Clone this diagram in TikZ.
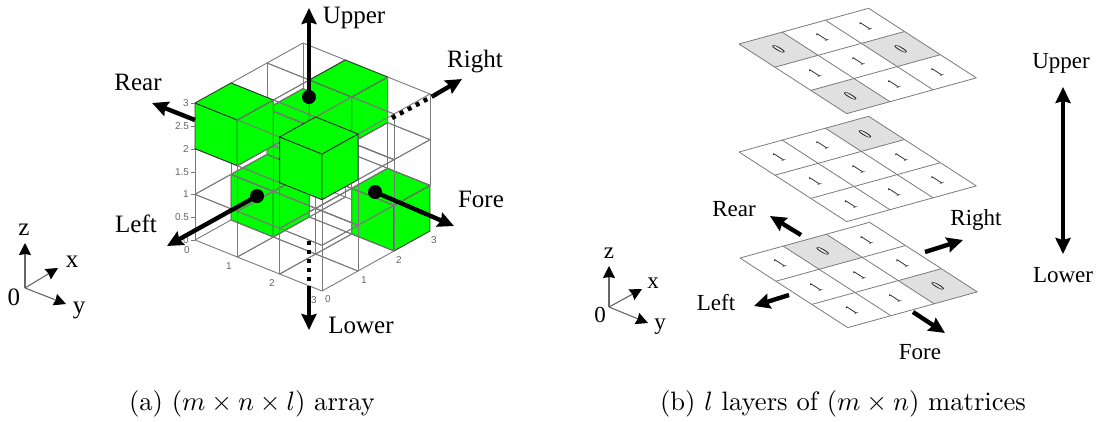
\documentclass[tikz,border=0pt]{standalone}
\usepackage{amsmath}
\usepackage{fontspec}
\usetikzlibrary{arrows.meta,positioning,calc}
\newfontfamily\labelfont{Liberation Serif}
\newfontfamily\tickfont{Liberation Sans}
\tikzset{
	gridline/.style = {
		draw=black!52,
		line width=0.9pt,
		line join=round
	},
	cubeface/.style = {
		fill=green,
		draw=black!80,
		line width=0.9pt,
		line join=round
	},
	thickarrow/.style = {
		-{Stealth[length=16pt,width=15pt,inset=2pt]},
		line width=4.4pt
	},
	dotline/.style = {
		line width=4.4pt,
		dash pattern=on 4pt off 5pt
	},
	thinarrow/.style = {
		-{Stealth[length=12pt,width=12pt,inset=1pt,black]},
		draw=black!60,
		line width=1.1pt
	},
	dirlabel/.style = {
		font=\labelfont\fontsize{25}{27}\selectfont
	},
	dirlabelb/.style = {
		font=\labelfont\fontsize{23}{25}\selectfont
	},
	ticklabel/.style = {
		font=\tickfont\fontsize{10}{10}\selectfont,
		text=black!60,
		inner sep=0pt
	},
	endball/.style = {
		fill,
		circle,
		minimum size=14pt,
		inner sep=0pt
	},
	captionlabel/.style = {
		scale=2.66,
		transform shape
	},
	digit/.style = {
		font=\labelfont\fontsize{10}{10}\selectfont,
		inner sep=0pt,
		transform shape,
		cm={1.16,0.32,-1.6,1.03,(0,0)}
	}
}
% one empty cell of the wire frame
\newcommand{\wirecell}[3]{
	\draw[gridline] (#1,#2,#3) -- (#1+1,#2,#3) -- (#1+1,#2+1,#3) -- (#1,#2+1,#3) -- cycle;
	\draw[gridline] (#1,#2,#3+1) -- (#1+1,#2,#3+1) -- (#1+1,#2+1,#3+1) -- (#1,#2+1,#3+1) -- cycle;
	\draw[gridline] (#1,#2,#3) -- (#1,#2,#3+1);
	\draw[gridline] (#1+1,#2,#3) -- (#1+1,#2,#3+1);
	\draw[gridline] (#1+1,#2+1,#3) -- (#1+1,#2+1,#3+1);
	\draw[gridline] (#1,#2+1,#3) -- (#1,#2+1,#3+1);
}
% one green cube, only its three faces that can be seen
\newcommand{\greencube}[3]{
	\draw[cubeface] (#1,#2,#3) -- (#1+1,#2,#3) -- (#1+1,#2,#3+1) -- (#1,#2,#3+1) -- cycle;
	\draw[cubeface] (#1+1,#2,#3) -- (#1+1,#2+1,#3) -- (#1+1,#2+1,#3+1) -- (#1+1,#2,#3+1) -- cycle;
	\draw[cubeface] (#1,#2,#3+1) -- (#1+1,#2,#3+1) -- (#1+1,#2+1,#3+1) -- (#1,#2+1,#3+1) -- cycle;
}
% one layer of the matrices: name, left corner, list of zeros, list of ones
\newcommand{\layermatrix}[4]{
	\begin{scope}[shift={#2}, x={(35.9pt,-23.2pt)}, y={(43.2pt,11.9pt)}]
		\foreach \f/\r in {#3} {
			\fill[black!12] (\f,\r) -- (\f+1,\r) -- (\f+1,\r+1) -- (\f,\r+1) -- cycle;
			\node[digit] (#1-\f-\r) at (\f+0.5,\r+0.5) {0};
		}
		\foreach \f/\r in {#4} {
			\node[digit] (#1-\f-\r) at (\f+0.5,\r+0.5) {1};
		}
		\foreach \i in {0,1,2,3} {
			\draw[gridline, line width=0.8pt] (\i,0) -- (\i,3);
			\draw[gridline, line width=0.8pt] (0,\i) -- (3,\i);
		}
	\end{scope}
}
\begin{document}
\begin{tikzpicture}[x=1pt, y=-1pt]
		\useasboundingbox (0,0) rectangle (1097,421);
		
		% --- Array ---
		\foreach \c in {002,202,122,021,010,220} {
			\expandafter\gdef\csname cell\c\endcsname{}
		}
		\begin{scope}[shift={(195,240)}, x={(42.33pt,-17pt)}, y={(36pt,20pt)}, z={(0pt,45.67pt)}]
			\foreach \k in {0,1,2} {
				\foreach \r in {2,1,0} {
					\foreach \f in {0,1,2} {
						\ifcsname cell\f\r\k\endcsname
							\greencube{\f}{\r}{\k}
						\else
							\wirecell{\f}{\r}{\k}
						\fi
					}
				}
			}
		\end{scope}
		
		% Tick labels
		\node[ticklabel] (tz3) at (186,103) {3};
		\node[ticklabel] (tz25) at (182,126) {2.5};
		\node[ticklabel] (tz2) at (186,149) {2};
		\node[ticklabel] (tz15) at (182,172) {1.5};
		\node[ticklabel] (tz1) at (186,194) {1};
		\node[ticklabel] (tz05) at (182,217) {0.5};
		\node[ticklabel] (tz0) at (186,240) {0};
		\node[ticklabel] (tf0) at (187,250) {0};
		\node[ticklabel] (tf1) at (229,266) {1};
		\node[ticklabel] (tf2) at (272,283) {2};
		\node[ticklabel] (tf3) at (314,300) {3};
		\node[ticklabel] (tr0) at (328,299) {0};
		\node[ticklabel] (tr1) at (364,280) {1};
		\node[ticklabel] (tr2) at (399,260) {2};
		\node[ticklabel] (tr3) at (434,240) {3};
		\foreach \y in {103,126,149,172,194,217,240} {
			\draw[gridline] (191,\y) -- (195,\y);
		}
		
		% --- Directions of the array ---
		\node[endball] (upperball) at (309,97) {};
		\node[endball] (leftball) at (257,196) {};
		\node[endball] (foreball) at (375,192) {};
		\coordinate (uppertip) at (309,8);
		\coordinate (reartail) at (195,120);
		\coordinate (reartip) at (152,103);
		\coordinate (rightdots) at (392,118);
		\coordinate (righttail) at (433,96);
		\coordinate (righttip) at (462,79);
		\coordinate (lefttip) at (167,246);
		\coordinate (foretip) at (454,226);
		\coordinate (lowerdots) at (309,241);
		\coordinate (lowertail) at (309,286);
		\coordinate (lowertip) at (309,330);
		\draw[thickarrow] (upperball.center) -- (uppertip);
		\draw[thickarrow] (reartail) -- (reartip);
		\draw[dotline] (rightdots) -- (righttail);
		\draw[thickarrow] (righttail) -- (righttip);
		\draw[thickarrow] (leftball.center) -- (lefttip);
		\draw[thickarrow] (foreball.center) -- (foretip);
		\draw[dotline] (lowerdots) -- (lowertail);
		\draw[thickarrow] (lowertail) -- (lowertip);
		\node[dirlabel] (upperlabel) at (354,18) {Upper};
		\node[dirlabel] (rearlabel) at (138,82) {Rear};
		\node[dirlabel] (rightlabel) at (475,62) {Right};
		\node[dirlabel] (leftlabel) at (136,224) {Left};
		\node[dirlabel] (forelabel) at (481,199) {Fore};
		\node[dirlabel] (lowerlabel) at (361,325) {Lower};
		
		% --- Axes of (a) ---
		\coordinate (origa) at (25,288);
		\node[dirlabel, inner sep=0pt] (za) at (24,230) {z};
		\node[dirlabel, inner sep=0pt] (xa) at (72,262) {x};
		\node[dirlabel, inner sep=0pt] (ya) at (79,310) {y};
		\node[dirlabel, inner sep=0pt] (zeroa) at (14,297) {0};
		\coordinate (ztipa) at (25,243);
		\coordinate (xtipa) at (58,268);
		\coordinate (ytipa) at (66,304);
		\draw[thinarrow] (origa) -- (ztipa);
		\draw[thinarrow] (origa) -- (xtipa);
		\draw[thinarrow] (origa) -- (ytipa);
		
		% --- Matrices ---
		\layermatrix{top}{(739,44)}{0/0,2/0,1/2}{0/1,0/2,1/0,1/1,2/1,2/2}
		\layermatrix{mid}{(739,152)}{0/2}{0/0,0/1,1/0,1/1,1/2,2/0,2/1,2/2}
		\layermatrix{low}{(740,258)}{0/1,2/2}{0/0,0/2,1/0,1/1,1/2,2/0,2/1}
		
		% --- Directions of the matrices ---
		\coordinate (rearbtail) at (801,235);
		\coordinate (rearbtip) at (770,216);
		\coordinate (rightbtail) at (925,252);
		\coordinate (rightbtip) at (963,240);
		\coordinate (leftbtail) at (789,295);
		\coordinate (leftbtip) at (754,306);
		\coordinate (forebtail) at (913,312);
		\coordinate (forebtip) at (945,333);
		\draw[thickarrow] (rearbtail) -- (rearbtip);
		\draw[thickarrow] (rightbtail) -- (rightbtip);
		\draw[thickarrow] (leftbtail) -- (leftbtip);
		\draw[thickarrow] (forebtail) -- (forebtip);
		\node[dirlabelb] (rearb) at (734,209) {Rear};
		\node[dirlabelb] (rightb) at (976,220) {Right};
		\node[dirlabelb] (leftb) at (716,303) {Left};
		\node[dirlabelb] (foreb) at (920,352) {Fore};
		\node[dirlabelb] (upperb) at (1061,63) {Upper};
		\node[dirlabelb] (lowerb) at (1063,275) {Lower};
		\coordinate (doubletop) at (1063,87);
		\coordinate (doublelow) at (1063,254);
		\draw[thickarrow, {Stealth[length=16pt,width=15pt,inset=2pt]}-{Stealth[length=16pt,width=15pt,inset=2pt]}] (doubletop) -- (doublelow);
		
		% --- Axes of (b) ---
		\coordinate (origb) at (609,307);
		\node[dirlabelb, inner sep=0pt] (zb) at (609,253) {z};
		\node[dirlabelb, inner sep=0pt] (xb) at (653,283) {x};
		\node[dirlabelb, inner sep=0pt] (yb) at (660,327) {y};
		\node[dirlabelb, inner sep=0pt] (zerob) at (600,315) {0};
		\coordinate (ztipb) at (609,266);
		\coordinate (xtipb) at (642,289);
		\coordinate (ytipb) at (648,323);
		\draw[thinarrow] (origb) -- (ztipb);
		\draw[thinarrow] (origb) -- (xtipb);
		\draw[thinarrow] (origb) -- (ytipb);
		
		% Captions
		\node[captionlabel] (captiona) at (252,404) {(a) $(m \times n \times l)$ array};
		\node[captionlabel] (captionb) at (843,404) {(b) $l$ layers of $(m \times n)$ matrices};
		
	\end{tikzpicture}
\end{document}
